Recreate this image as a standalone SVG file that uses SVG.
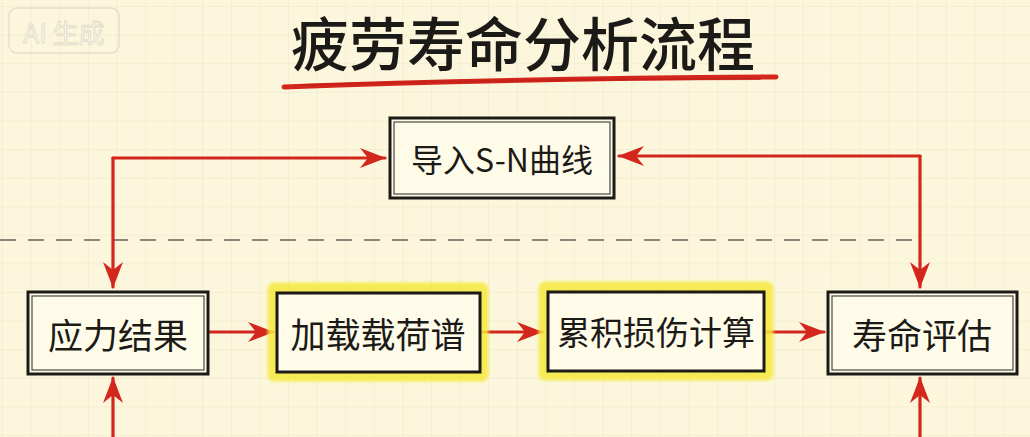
<svg xmlns="http://www.w3.org/2000/svg" width="1030" height="437" viewBox="0 0 1030 437">
  <defs>
    <pattern id="grid" x="2" y="6" width="28.6" height="28.6" patternUnits="userSpaceOnUse">
      <path d="M0,0 H28.6 M0,0 V28.6" fill="none" stroke="#ebe5c9" stroke-width="1"/>
    </pattern>
    <marker id="ah" viewBox="0 0 26 20" refX="25" refY="10" markerWidth="26" markerHeight="20" markerUnits="userSpaceOnUse" orient="auto">
      <path d="M0,0 L26,10 L0,20 L8,10 Z" fill="#d3261c"/>
    </marker>
    <filter id="soft" x="-10%" y="-20%" width="120%" height="140%">
      <feGaussianBlur stdDeviation="1.5"/>
    </filter>
    <style>
      .lbl { font-family: "Noto Sans CJK SC", "Noto Sans", sans-serif; fill: #1c1a17; text-anchor: middle; dominant-baseline: central; }
      .box { fill: #fffbe9; stroke: #1c1a17; stroke-width: 3; }
      .inner { fill: none; stroke: #1c1a17; stroke-width: 1.2; opacity: 0.8; }
      .hl { fill: none; stroke: #f5e93c; stroke-width: 13; stroke-linejoin: round; opacity: 0.85; }
      .con { fill: none; stroke: #d3261c; stroke-width: 3.2; stroke-linecap: round; stroke-linejoin: round; }
    </style>
  </defs>
  <rect width="1030" height="437" fill="#fcf7dc"/>
  <rect width="1030" height="437" fill="url(#grid)"/>

  <g id="watermark">
    <rect x="9" y="8" width="110" height="45" rx="8" fill="none" stroke="#e4e0cd" stroke-width="1.5"/>
    <text x="64" y="31" font-family="'Noto Sans CJK SC', 'Noto Sans', sans-serif" font-size="26" fill="#fbf9ee" stroke="#dcd8c4" stroke-width="0.8" text-anchor="middle" dominant-baseline="central">AI 生成</text>
  </g>

  <g id="title">
    <path d="M284,87 C420,82 600,78 776,77" fill="none" stroke="#d3261c" stroke-width="5" stroke-linecap="round"/>
    <path d="M300,85 C440,81 610,79 760,79" fill="none" stroke="#c21f16" stroke-width="2" stroke-linecap="round" opacity="0.7"/>
    <text x="523" y="41" class="lbl" font-size="58" font-weight="500">疲劳寿命分析流程</text>
  </g>

  <line x1="0" y1="240" x2="912" y2="240" stroke="#8a8679" stroke-width="2" stroke-dasharray="16,12"/>

  <g id="connectors">
    <path class="con" d="M113,158 H385" marker-end="url(#ah)"/>
    <path class="con" d="M113,158 V287" marker-end="url(#ah)"/>
    <path class="con" d="M920,156 H619" marker-end="url(#ah)"/>
    <path class="con" d="M920,156 V287" marker-end="url(#ah)"/>
    <path class="con" d="M210,332 H273" marker-end="url(#ah)"/>
    <path class="con" d="M482,332 H542" marker-end="url(#ah)"/>
    <path class="con" d="M767,332 H824" marker-end="url(#ah)"/>
    <path class="con" d="M113,437 V378" marker-end="url(#ah)"/>
    <path class="con" d="M920,437 V378" marker-end="url(#ah)"/>
  </g>

  <g id="node-sn">
    <rect class="box" x="390" y="118" width="224" height="80"/>
    <rect class="inner" x="394" y="122" width="216" height="72"/>
    <text class="lbl" x="502" y="158" font-size="32">导入S-N曲线</text>
  </g>

  <g id="node-stress">
    <rect class="box" x="28" y="292" width="180" height="82"/>
    <rect class="inner" x="32" y="296" width="172" height="74"/>
    <text class="lbl" x="118" y="333" font-size="35">应力结果</text>
  </g>

  <g id="node-load">
    <rect class="hl" x="274" y="289" width="208" height="86" filter="url(#soft)"/>
    <rect class="box" x="277" y="293" width="203" height="79"/>
    <text class="lbl" x="378" y="332" font-size="35">加载载荷谱</text>
  </g>

  <g id="node-damage">
    <rect class="hl" x="545" y="288" width="222" height="86" filter="url(#soft)"/>
    <rect class="box" x="548" y="292" width="216" height="79"/>
    <text class="lbl" x="656" y="331" font-size="33">累积损伤计算</text>
  </g>

  <g id="node-life">
    <rect class="box" x="828" y="292" width="189" height="82"/>
    <rect class="inner" x="832" y="296" width="181" height="74"/>
    <text class="lbl" x="922" y="333" font-size="35">寿命评估</text>
  </g>
</svg>
